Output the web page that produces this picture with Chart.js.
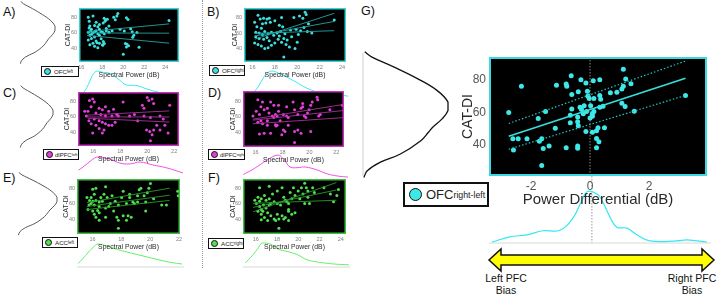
<!DOCTYPE html>
<html>
<head>
<meta charset="utf-8">
<script src="https://cdn.jsdelivr.net/npm/chart.js@4.4.1/dist/chart.umd.min.js"></script>
<style>
  body { margin: 0; background: #fff; width: 720px; height: 298px; overflow: hidden; position: relative;
         font-family: 'Liberation Sans', Arial, Helvetica, sans-serif; }
  canvas { position: absolute; }
  .lbl { position: absolute; font-size: 12.5px; line-height: 1; color: #111; }
  .leg { position: absolute; box-sizing: border-box; border: 1.2px solid #111; background: #fff;
         display: flex; align-items: center; white-space: nowrap; color: #222; overflow: hidden; }
  .leg i { display: inline-block; border-radius: 50%; border: 0.8px solid #111; box-sizing: border-box; flex: none; }
  .leg sub { font-size: 0.72em; vertical-align: -0.35em; line-height: 0; }
  .sep { position: absolute; left: 202px; top: 0; height: 268px; border-left: 1px dotted #999; }
  .bias { position: absolute; font-size: 10.5px; line-height: 12px; text-align: center; color: #111; }
</style>
</head>
<body>
<div class="sep"></div>
<div class="lbl" style="left:3px;top:6px">A)</div>
<div class="lbl" style="left:3px;top:87px">C)</div>
<div class="lbl" style="left:3px;top:172px">E)</div>
<div class="lbl" style="left:207px;top:6px">B)</div>
<div class="lbl" style="left:208px;top:87px">D)</div>
<div class="lbl" style="left:208px;top:172px">F)</div>
<div class="lbl" style="left:361px;top:5px">G)</div>

<div class="leg" style="left:41px;top:66px;width:38px;height:11px;font-size:6.2px"><i style="width:7px;height:7px;background:#3de0e0;margin:0 3px 0 2px"></i>OFC<sub>left</sub></div>
<div class="leg" style="left:209px;top:65px;width:36px;height:11px;font-size:6.2px"><i style="width:7px;height:7px;background:#3de0e0;margin:0 3px 0 2px"></i>OFC<sub>right</sub></div>
<div class="leg" style="left:43px;top:149px;width:36px;height:11px;font-size:6px"><i style="width:7px;height:7px;background:#e040d8;margin:0 2px 0 2px"></i>dlPFC<sub>left</sub></div>
<div class="leg" style="left:208px;top:149px;width:37px;height:11px;font-size:6px"><i style="width:7px;height:7px;background:#e040d8;margin:0 2px 0 2px"></i>dlPFC<sub>right</sub></div>
<div class="leg" style="left:42px;top:237px;width:36px;height:11px;font-size:6.2px"><i style="width:7px;height:7px;background:#50e050;margin:0 3px 0 2px"></i>ACC<sub>left</sub></div>
<div class="leg" style="left:208px;top:238px;width:36px;height:11px;font-size:6.2px"><i style="width:7px;height:7px;background:#50e050;margin:0 3px 0 2px"></i>ACC<sub>right</sub></div>
<div class="leg" style="left:403px;top:182px;width:86px;height:25px;font-size:13px;border-width:2px"><i style="width:13px;height:13px;background:#3de8e8;border-width:1.2px;margin:0 4px 0 4px"></i>OFC<sub style="font-size:8.8px">right-left</sub></div>

<svg style="position:absolute;left:0;top:0" width="720" height="298">
  <polygon points="489,260 501,249 501,255 702,255 702,249 714,260 702,271 702,265 501,265 501,271"
           fill="#ffff00" stroke="#111" stroke-width="1.5" stroke-linejoin="miter"/>
</svg>
<div class="bias" style="left:476px;top:272px;width:60px">Left PFC<br>Bias</div>
<div class="bias" style="left:664px;top:272px;width:56px">Right PFC<br>Bias</div>

<script>
// ---------------- data ----------------
const ticks16to24 = [16, 18, 20, 22, 24];
const ticks16to22 = [16, 18, 20, 22];
const catdiTicks = [40, 60, 80];
const diffTicks = [-2, 0, 2];

// A) OFC left
const ofcLeftPts = [[16.67,79.7],[17.12,81.3],[16.76,74.5],[17.42,73.3],[17.73,70.4],[16.82,68.4],[17.27,69.2],
  [17.58,67.6],[16.97,64.4],[17.42,62.4],[17.73,64.4],[17.88,61.2],[16.67,60.4],[17.12,59.6],[17.58,58.4],
  [18.03,60.4],[16.82,56.4],[17.27,54.4],[17.73,56.4],[16.97,52.4],[16.67,50.4],[17.42,49.2],[17.12,46.3],
  [16.82,44.3],[17.27,42.3],[17.58,40.3],[17.73,46.3],[18.03,44.3],[16.9,62.0],[17.0,58.0],[17.3,61.5],
  [16.75,66.0],[17.9,52.0],[17.5,47.0],[18.18,78.5],[18.27,74.5],[18.09,72.4],[18.33,76.5],[18.48,77.3],
  [18.64,68.4],[18.39,65.2],[19.09,79.7],[19.24,76.5],[19.39,81.3],[19.48,84.5],[18.94,62.4],[18.39,62.4],
  [18.64,60.4],[19.7,64.4],[18.2,58.5],[18.1,48.5],[18.2,46.0],[18.05,43.5],[20.3,79.0],[20.45,77.0],
  [20.7,65.0],[20.85,61.0],[21.0,56.5],[20.9,54.0],[20.2,46.0],[20.35,45.0],[20.5,43.0],[20.3,41.5],
  [21.5,41.0],[20.0,32.0],[21.3,60.0],[20.1,62.0],[24.35,75.6]];
const ofcLeftFitMid = [[16.55,59.5],[24.36,59.2]];
const ofcLeftFitHi = [[16.55,61.2],[24.36,71.2]];
const ofcLeftFitLo = [[16.55,56.4],[24.36,46.3]];

// B) OFC right
const ofcRightPts = [[16.2,74],[16.5,83],[16.7,78],[17.0,79],[17.3,78],[17.5,79],[16.9,72],[17.2,73],[17.6,74],
  [16.4,68],[16.8,66],[16.3,61],[16.6,60],[16.9,58],[17.1,62],[17.4,59],[17.7,61],[17.9,57],[16.3,55],[16.6,53],
  [17.0,52],[17.3,54],[17.5,50],[16.2,47],[16.5,45],[16.8,43],[17.1,40],[17.4,41],[17.7,44],[18.0,47],[18.3,52],
  [18.0,76],[18.6,80],[18.4,70],[18.7,68],[18.2,60],[18.5,62],[18.9,59],[18.4,56],[18.8,53],[19.1,51],[18.6,48],
  [19.0,45],[18.8,29],[19.3,42],[19.7,80],[20.2,82],[20.5,79],[20.7,87],[20.8,84],[19.9,65],[20.3,63],[20.1,58],
  [20.6,67],[19.5,55],[19.8,40],[20.0,48],[19.4,64],[21.0,72],[21.3,60],[20.9,62],[23.3,77]];
const ofcRightFitFlat = [[16.2,59.5],[23.3,63]];
const ofcRightFitMid = [[16.2,56],[23.3,75]];
const ofcRightFitSteep = [[16.2,52],[23.3,85.5]];

// C) dlPFC left
const dlpfcLeftPts = [[15.71,81.0],[15.95,83.0],[16.07,79.0],[15.83,72.9],[16.43,70.9],[16.67,68.9],[16.9,72.9],
  [17.14,66.9],[17.5,69.7],[15.6,66.9],[16.19,64.8],[16.55,62.8],[16.9,60.8],[17.38,60.8],[17.74,62.8],[16.07,56.8],
  [16.43,54.7],[16.67,52.7],[16.9,50.7],[17.14,48.7],[16.19,48.7],[16.43,44.6],[16.79,42.6],[15.95,38.6],
  [16.67,38.6],[17.38,48.7],[17.62,52.7],[17.86,60.8],[18.21,79.0],[18.69,60.8],[19.05,62.8],[19.64,75.0],
  [19.76,70.9],[20.0,85.1],[20.12,81.0],[20.36,83.0],[20.48,77.0],[19.29,54.7],[19.76,60.8],[20.24,58.8],
  [19.95,42.6],[20.19,40.6],[20.36,36.6],[20.24,28.5],[20.48,42.6],[20.95,60.8],[21.19,56.8],[21.31,48.7],
  [21.55,38.6],[21.67,75.0],[20.71,48.7],[20.95,42.6],[15.36,66.9],[15.48,60.8],[15.67,54.7],[15.83,50.7]];
const dlpfcLeftFitMid = [[15.57,59.6],[21.64,59.6]];
const dlpfcLeftFitHi = [[15.57,62],[21.64,67.5]];
const dlpfcLeftFitLo = [[15.57,58],[21.64,53]];

// D) dlPFC right
const dlpfcRightPts = [[15.81,60.8],[16.05,66.9],[16.17,81.8],[16.52,79.0],[16.40,72.9],[16.29,62.8],[16.64,68.9],
  [16.88,70.9],[17.0,64.8],[17.24,60.8],[17.48,62.8],[17.6,60.8],[17.71,66.9],[18.07,62.8],[18.31,72.9],[18.31,60.8],
  [18.43,58.8],[17.36,74.9],[17.71,74.9],[17.12,79.0],[16.17,52.7],[16.40,54.7],[16.52,50.7],[16.88,54.7],
  [17.36,58.8],[17.6,48.7],[17.83,54.7],[18.07,42.6],[18.19,40.6],[17.95,36.6],[17.12,38.6],[16.64,38.6],
  [16.29,37.4],[18.43,48.7],[18.79,79.0],[18.9,68.9],[19.14,62.8],[19.38,70.9],[19.5,72.9],[19.62,60.8],
  [19.5,77.0],[19.74,58.8],[19.86,64.8],[19.98,68.9],[20.21,79.0],[20.1,74.9],[20.57,85.1],[20.62,81.8],
  [20.69,60.8],[18.9,40.6],[19.14,42.6],[19.38,38.6],[18.9,26.5],[20.1,40.6],[20.81,62.8],[21.52,68.9],
  [22.45,74.9],[17.48,49.5],[17.52,47.9],[16.88,48.7]];
const dlpfcRightFitHi = [[15.8,56.7],[22.6,76.1]];
const dlpfcRightFitMid = [[15.8,55.5],[22.6,68.1]];
const dlpfcRightFitLo = [[15.8,50.7],[22.6,58.8]];

// E) ACC left
const accLeftPts = [[15.62,68.2],[15.91,68.2],[16.02,78.8],[16.24,80.0],[16.13,72.2],[15.8,64.3],[16.24,64.3],
  [16.47,62.4],[16.69,63.1],[15.91,60.4],[16.13,58.4],[16.47,56.5],[15.69,52.5],[16.02,50.6],[16.36,51.4],
  [16.13,46.7],[16.47,48.6],[16.24,42.7],[16.47,38.8],[16.91,42.7],[16.91,82.0],[16.8,72.2],[17.02,68.2],
  [17.36,70.2],[17.58,63.1],[17.24,60.4],[17.13,56.5],[17.47,50.6],[17.69,42.7],[17.8,38.8],[16.91,54.5],
  [17.8,58.4],[18.02,68.2],[18.13,76.1],[18.36,60.4],[18.58,68.2],[18.8,62.4],[18.58,72.2],[19.13,70.2],
  [19.24,78.0],[19.36,80.0],[19.58,70.2],[19.8,74.1],[19.91,80.0],[20.02,85.9],[19.69,62.4],[19.13,62.4],
  [18.91,60.4],[18.47,44.7],[18.69,42.7],[18.13,44.7],[18.36,38.8],[17.8,28.6],[20.24,66.3],[20.8,58.4],
  [21.13,58.4],[21.91,76.1],[21.95,70.2],[19.69,50.6],[16.02,63.1],[16.58,68.2],[15.76,58.4]];
const accLeftFitHi = [[15.62,61.5],[21.35,80]];
const accLeftFitMid = [[15.62,56.5],[21.35,71]];
const accLeftFitLo = [[15.62,52.6],[21.35,64.3]];

// F) ACC right
const accRightPts = [[16.36,80.6],[16.21,68.5],[15.91,64.4],[16.06,60.4],[16.36,63.2],[16.52,66.5],[16.82,70.5],
  [16.73,58.4],[16.36,56.4],[16.52,52.3],[16.21,50.3],[16.67,50.3],[16.97,54.3],[17.27,58.4],[17.12,48.3],
  [16.52,46.3],[16.82,42.2],[16.52,39.0],[17.12,38.2],[17.42,44.2],[17.73,40.2],[17.88,38.2],[18.18,40.2],
  [18.03,46.3],[18.33,58.4],[18.03,60.4],[17.73,62.4],[17.42,60.4],[17.58,72.5],[18.03,76.6],[17.27,82.6],
  [18.48,80.6],[18.64,68.5],[18.94,62.4],[19.09,60.4],[18.79,64.4],[19.39,66.5],[19.24,74.5],[19.7,70.5],
  [20.0,76.6],[20.3,80.6],[19.55,80.6],[20.15,66.5],[20.45,72.5],[20.61,60.4],[20.91,68.5],[21.06,60.4],
  [20.61,86.7],[20.76,80.6],[20.91,76.6],[21.36,80.6],[21.52,74.5],[22.42,80.6],[23.03,72.5],[23.33,62.4],
  [23.64,70.5],[23.79,78.6],[19.09,50.3],[19.39,46.3],[18.79,42.2],[18.48,44.2],[18.64,40.2],[19.09,38.2],
  [19.09,52.3],[19.7,48.3],[18.18,28.1],[16.97,64.4],[17.27,66.5]];
const accRightFitSteep = [[15.75,49.5],[23.6,87.5]];
const accRightFitMid = [[15.75,55.2],[23.6,77.8]];
const accRightFitFlat = [[15.75,60.4],[23.6,64.5]];

// G) OFC right-left
const ofcDiffPts = [[-2.76,60],[-2.33,76.2],[-1.76,56.3],[-1.51,60.7],[-1.14,76.8],[-0.81,77.6],[-0.79,76.2],
  [-0.64,82.8],[-0.31,80.2],[-0.14,78.2],[0.11,79.6],[0.33,80.2],[-0.62,71.2],[-0.4,72.8],[-0.09,73.2],
  [-0.07,70.3],[-0.03,68.7],[0.13,68.7],[0.33,70.6],[0.36,68.2],[0.69,72.2],[0.91,72.6],[1.08,74.6],
  [1.13,76.2],[1.21,80.8],[1.13,86.8],[1.39,77.8],[1.08,65.7],[1.19,63.7],[1.5,60.9],[3.24,70.6],
  [-0.62,62.3],[-0.34,63.3],[-0.29,61.9],[-0.2,64.3],[-0.12,60.7],[-0.23,59.3],[0.02,64.3],[0.08,59.3],
  [0.13,60.7],[0,56.7],[0.08,57.7],[0.33,63.3],[0.44,63.9],[-0.67,58.3],[-0.42,57.3],[-0.67,53.7],
  [-0.42,54.3],[-0.4,51.9],[-1.18,50.3],[-0.14,48.3],[0.08,47.9],[0.22,48.8],[0.27,50.7],[0.49,50.7],
  [0.22,44],[0.3,42],[0.22,38.4],[-2.62,43.8],[-2.44,43.8],[-2.14,43.8],[-2.6,37],[-1.72,42.4],[-1.64,43.8],
  [-1.59,37.8],[-1.39,39.4],[-0.81,38.4],[-0.42,39.4],[-0.42,38],[-1.64,27.3]];
const ofcDiffFitMid = [[-2.76,45.4],[3.24,81.2]];
const ofcDiffFitHi = [[-2.76,53.3],[3.24,91.8]];
const ofcDiffFitLo = [[-2.76,37.4],[3.24,70.6]];

// marginal densities (relative height)
const catdiLevels = [95, 92, 86, 79, 72, 65, 60, 55, 50, 47, 42, 34, 29, 24, 20];
const catdiDensity = [0.02, 0.10, 0.36, 0.64, 0.87, 1.0, 1.0, 0.93, 0.82, 0.77, 0.68, 0.44, 0.20, 0.05, 0.01];

const ofcLeftDensX = [15.9, 16.2, 16.5, 16.8, 17.1, 17.45, 17.9, 18.6, 19.5, 20.1, 21.0, 22.0, 23.0, 24.0, 25.0];
const ofcLeftDensY = [0.0, 0.1, 0.3, 0.6, 0.88, 1.0, 0.95, 0.9, 0.62, 0.42, 0.4, 0.25, 0.12, 0.06, 0.02];
const ofcRightDensX = [15.5, 15.9, 16.4, 16.8, 17.2, 17.65, 18.2, 18.9, 19.7, 20.6, 21.5, 22.5, 23.5, 24.2];
const ofcRightDensY = [0.02, 0.1, 0.35, 0.65, 0.9, 1.0, 0.92, 0.77, 0.58, 0.35, 0.2, 0.12, 0.08, 0.03];
const dlpfcLeftDensX = [14.9, 15.14, 15.57, 16.21, 16.7, 17.14, 17.86, 18.57, 19.29, 20.21, 21.21, 22.36];
const dlpfcLeftDensY = [0.38, 0.48, 0.71, 1.0, 0.95, 0.9, 0.71, 0.67, 0.76, 0.62, 0.48, 0.24];
const dlpfcRightDensX = [15.1, 15.36, 15.71, 16.3, 16.79, 17.57, 18.0, 18.43, 19.0, 19.5, 20.36, 21.14, 21.9, 22.57];
const dlpfcRightDensY = [0.15, 0.24, 0.35, 0.58, 0.78, 1.0, 0.8, 0.48, 0.45, 0.48, 0.35, 0.17, 0.08, 0.04];
const accLeftDensX = [15.0, 15.3, 15.7, 16.0, 16.33, 16.7, 17.13, 17.7, 18.27, 19.33, 20.47, 21.2, 21.93];
const accLeftDensY = [0.15, 0.35, 0.65, 0.85, 1.0, 0.96, 0.87, 0.75, 0.65, 0.48, 0.3, 0.2, 0.13];
const accRightDensX = [15.0, 15.5, 16.1, 16.55, 17.27, 18.0, 18.8, 19.7, 20.6, 21.4, 22.1, 23.2, 24.4];
const accRightDensY = [0.17, 0.4, 0.74, 1.0, 0.96, 0.74, 0.65, 0.52, 0.3, 0.22, 0.17, 0.12, 0.09];
const ofcDiffDensX = [-3.33, -2.73, -2.17, -1.63, -1.07, -0.63, -0.33, -0.17, 0.03, 0.27, 0.6, 0.83, 1.17, 1.5, 1.93, 2.83, 3.17, 3.83];
const ofcDiffDensY = [0.02, 0.12, 0.16, 0.24, 0.25, 0.49, 0.84, 1.0, 1.0, 0.9, 0.51, 0.31, 0.29, 0.16, 0.04, 0.04, 0.06, 0.02];

// ---------------- helpers ----------------
Chart.defaults.font.family = "'Liberation Sans', Arial, Helvetica, sans-serif";

const CYAN = '#3de0e0', MAGENTA = '#e040d8', GREEN = '#50e050';

function toXY(pairs) {
    return pairs.map(([x, y]) => ({x, y}));
}

function zip(xs, ys) {
    return xs.map((x, i) => ({x, y: ys[i]}));
}

function addCanvas(left, top, width, height) {
    const c = document.createElement('canvas');
    c.width = width;
    c.height = height;
    c.style.left = left + 'px';
    c.style.top = top + 'px';
    c.style.width = width + 'px';
    c.style.height = height + 'px';
    document.body.appendChild(c);
    return c;
}

// black plot background + coloured frame
const framePlugin = {
    id: 'frame',
    beforeDraw(chart, args, opts) {
        const a = chart.chartArea, ctx = chart.ctx;
        ctx.save();
        ctx.fillStyle = '#000';
        ctx.fillRect(a.left, a.top, a.right - a.left, a.bottom - a.top);
        ctx.restore();
    },
    afterDraw(chart, args, opts) {
        const a = chart.chartArea, ctx = chart.ctx, w = opts.width || 1.5;
        ctx.save();
        ctx.strokeStyle = opts.color;
        ctx.lineWidth = w;
        ctx.strokeRect(a.left + w / 2, a.top + w / 2, a.right - a.left - w, a.bottom - a.top - w);
        ctx.restore();
    }
};

// zero lines / baselines taken from the chart's own scales
const guidesPlugin = {
    id: 'guides',
    beforeDatasetsDraw(chart, args, opts) {
        const a = chart.chartArea, ctx = chart.ctx;
        ctx.save();
        if (opts.zeroX) {
            const px = chart.scales.x.getPixelForValue(0);
            ctx.strokeStyle = opts.zeroX.color;
            ctx.lineWidth = opts.zeroX.width || 1;
            ctx.setLineDash(opts.zeroX.dash || []);
            ctx.beginPath();
            ctx.moveTo(px, a.top);
            ctx.lineTo(px, a.bottom);
            ctx.stroke();
        }
        if (opts.zeroY) {
            const py = chart.scales.y.getPixelForValue(0);
            ctx.strokeStyle = opts.zeroY.color;
            ctx.lineWidth = opts.zeroY.width || 1;
            ctx.setLineDash([]);
            ctx.beginPath();
            ctx.moveTo(a.left, py);
            ctx.lineTo(a.right, py);
            ctx.stroke();
        }
        ctx.restore();
    }
};

function scatterPanel(p) {
    const [l, t, r, b] = p.box;
    const canvas = addCanvas(l - p.yW, t, r - l + p.yW, b - t + p.xH);
    const fitSets = p.fits.map((f, i) => ({
        data: toXY(f),
        showLine: true,
        pointRadius: 0,
        borderColor: p.fitColors ? p.fitColors[i] : p.fitColor,
        borderWidth: p.fitWidths ? p.fitWidths[i] : 0.9,
        borderDash: p.fitDashes ? p.fitDashes[i] : [],
        order: 0
    }));
    new Chart(canvas, {
        type: 'scatter',
        data: {
            datasets: [{
                data: toXY(p.points),
                pointRadius: p.pointRadius,
                pointBackgroundColor: p.color,
                pointBorderWidth: 0,
                order: 1
            }, ...fitSets]
        },
        options: {
            responsive: false,
            animation: false,
            events: [],
            layout: {padding: 0},
            plugins: {
                legend: {display: false},
                tooltip: {enabled: false},
                frame: {color: p.frameColor, width: p.frameWidth},
                guides: p.guides || {}
            },
            scales: {
                x: {
                    type: 'linear',
                    min: p.xRange[0],
                    max: p.xRange[1],
                    afterBuildTicks: s => { s.ticks = p.xTicks.map(v => ({value: v})); },
                    afterFit: s => { s.height = p.xH; s.paddingLeft = 0; s.paddingRight = 0; },
                    grid: {display: false, drawTicks: false},
                    border: {display: false},
                    ticks: {font: {size: p.tickSize}, color: p.tickColor, padding: p.tickPad, maxRotation: 0, autoSkip: false},
                    title: {display: true, text: p.xTitle, font: {size: p.xTitleSize}, color: '#2a2a2a', padding: 0}
                },
                y: {
                    type: 'linear',
                    min: p.yRange[0],
                    max: p.yRange[1],
                    afterBuildTicks: s => { s.ticks = catdiTicks.map(v => ({value: v})); },
                    afterFit: s => { s.width = p.yW; s.paddingTop = 0; s.paddingBottom = 0; },
                    grid: {display: false, drawTicks: false},
                    border: {display: false},
                    ticks: {font: {size: p.tickSize}, color: p.tickColor, padding: p.tickPad, autoSkip: false},
                    title: {display: true, text: 'CAT-DI', font: {size: p.yTitleSize}, color: '#2a2a2a', padding: 0}
                }
            }
        },
        plugins: [framePlugin, guidesPlugin]
    });
}

function densityChart(p) {
    const pad = 3;
    const [l, t, r, b] = p.area;
    const canvas = addCanvas(l - pad, t - pad, r - l + 2 * pad, b - t + 2 * pad);
    new Chart(canvas, {
        type: 'scatter',
        data: {
            datasets: [{
                data: p.data,
                showLine: true,
                pointRadius: 0,
                borderColor: p.color,
                borderWidth: p.width || 1,
                tension: 0.4,
                clip: false
            }]
        },
        options: {
            responsive: false,
            animation: false,
            events: [],
            layout: {padding: pad},
            plugins: {legend: {display: false}, tooltip: {enabled: false}, guides: p.guides || {}},
            scales: {
                x: {type: 'linear', display: false, min: p.xRange[0], max: p.xRange[1]},
                y: {type: 'linear', display: false, min: p.yRange[0], max: p.yRange[1]}
            }
        },
        plugins: [guidesPlugin]
    });
}

// ---------------- marginal densities (drawn first, panels cover them) ----------------
const vertDens = zip(catdiDensity, catdiLevels);

densityChart({area: [20, 4, 55, 62], data: vertDens, color: '#555', xRange: [0, 1], yRange: [22, 91.7]});
densityChart({area: [20, 88, 53, 146], data: vertDens, color: '#555', xRange: [0, 1], yRange: [21.8, 92.1]});
densityChart({area: [18, 175, 57, 234], data: vertDens, color: '#555', xRange: [0, 1], yRange: [21.2, 91.8]});
densityChart({area: [363, 53, 448, 176], data: vertDens, color: '#111', width: 1.3, xRange: [0, 1], yRange: [20.9, 94.3],
    guides: {zeroX: {color: '#cfcfcf', width: 1}}});

densityChart({area: [79, 71, 183, 95], data: zip(ofcLeftDensX, ofcLeftDensY), color: '#35e8f0', xRange: [15.79, 25.3], yRange: [0, 1]});
densityChart({area: [244, 71, 350, 97], data: zip(ofcRightDensX, ofcRightDensY), color: '#35e8f0', xRange: [15.25, 24.35], yRange: [0, 1]});
densityChart({area: [78, 157, 183, 178], data: zip(dlpfcLeftDensX, dlpfcLeftDensY), color: '#f050e8', xRange: [14.86, 22.36], yRange: [0, 1]});
densityChart({area: [243, 155, 348, 178], data: zip(dlpfcRightDensX, dlpfcRightDensY), color: '#f050e8', xRange: [15.07, 22.57], yRange: [0, 1]});
densityChart({area: [77, 244, 184, 267], data: zip(accLeftDensX, accLeftDensY), color: '#60f060', xRange: [14.93, 22.07], yRange: [0, 1],
    guides: {zeroY: {color: '#d8d8d8', width: 1}}});
densityChart({area: [243, 243, 350, 267], data: zip(accRightDensX, accRightDensY), color: '#60f060', xRange: [14.8, 24.5], yRange: [0, 1],
    guides: {zeroY: {color: '#d8d8d8', width: 1}}});
densityChart({area: [489, 176, 711, 243], data: zip(ofcDiffDensX, ofcDiffDensY), color: '#35e8f0', width: 1.2, xRange: [-3.43, 3.97], yRange: [0, 1.31],
    guides: {zeroX: {color: '#999', width: 1, dash: [1.5, 1.5]}, zeroY: {color: '#d8d8d8', width: 1}}});

// ---------------- scatter panels ----------------
const small = {pointRadius: 1.5, tickSize: 5.5, tickColor: '#808080', tickPad: 2, xTitle: 'Spectral Power (dB)',
               xTitleSize: 6.8, yTitleSize: 7, xH: 17, frameWidth: 1.5};

scatterPanel({...small, box: [79, 4, 183, 62], yW: 15, xRange: [15.79, 25.3], yRange: [22, 91.7], xTicks: ticks16to24,
    points: ofcLeftPts, fits: [ofcLeftFitMid, ofcLeftFitHi, ofcLeftFitLo], color: CYAN, fitColor: '#22a4a4', frameColor: '#33d6d6'});
scatterPanel({...small, box: [244, 4, 350, 62], yW: 13, xRange: [15.25, 24.35], yRange: [22.4, 92.4], xTicks: ticks16to24,
    points: ofcRightPts, fits: [ofcRightFitFlat, ofcRightFitMid, ofcRightFitSteep], color: CYAN, fitColor: '#22a4a4', frameColor: '#33d6d6'});
scatterPanel({...small, box: [78, 88, 183, 146], yW: 15, xRange: [14.86, 22.36], yRange: [21.8, 92.1], xTicks: ticks16to22,
    points: dlpfcLeftPts, fits: [dlpfcLeftFitMid, dlpfcLeftFitHi, dlpfcLeftFitLo], color: MAGENTA, fitColor: '#a8309e', frameColor: '#c830c0'});
scatterPanel({...small, box: [243, 87, 348, 147], yW: 14, xRange: [15.07, 22.57], yRange: [20.6, 93.3], xTicks: ticks16to22,
    points: dlpfcRightPts, fits: [dlpfcRightFitHi, dlpfcRightFitMid, dlpfcRightFitLo], color: MAGENTA, fitColor: '#a8309e', frameColor: '#c830c0'});
scatterPanel({...small, box: [77, 175, 184, 234], yW: 15, xRange: [14.93, 22.07], yRange: [21.2, 91.8], xTicks: ticks16to22,
    points: accLeftPts, fits: [accLeftFitHi, accLeftFitMid, accLeftFitLo], color: GREEN, fitColor: '#2a982a', frameColor: '#40c040'});
scatterPanel({...small, box: [243, 175, 350, 234], yW: 14, xRange: [14.8, 24.5], yRange: [20.6, 92.1], xTicks: ticks16to24,
    points: accRightPts, fits: [accRightFitSteep, accRightFitMid, accRightFitFlat], color: GREEN, fitColor: '#2a982a', frameColor: '#40c040'});

scatterPanel({box: [489, 53, 711, 176], yW: 29, xH: 33, xRange: [-3.43, 3.97], yRange: [20.9, 94.3], xTicks: diffTicks,
    points: ofcDiffPts, fits: [ofcDiffFitMid, ofcDiffFitHi, ofcDiffFitLo], color: '#3de8e8', pointRadius: 2.5,
    fitColors: ['#35e0e0', '#22c4c4', '#22c4c4'], fitWidths: [1.6, 1.2, 1.2], fitDashes: [[], [1.5, 2], [1.5, 2]],
    frameColor: '#3ad8e0', frameWidth: 2, tickSize: 12, tickColor: '#555', tickPad: 3,
    xTitle: 'Power Differential (dB)', xTitleSize: 15, yTitleSize: 14,
    guides: {zeroX: {color: '#8a8a8a', width: 1, dash: [1.5, 1.5]}}});
</script>
</body>
</html>
